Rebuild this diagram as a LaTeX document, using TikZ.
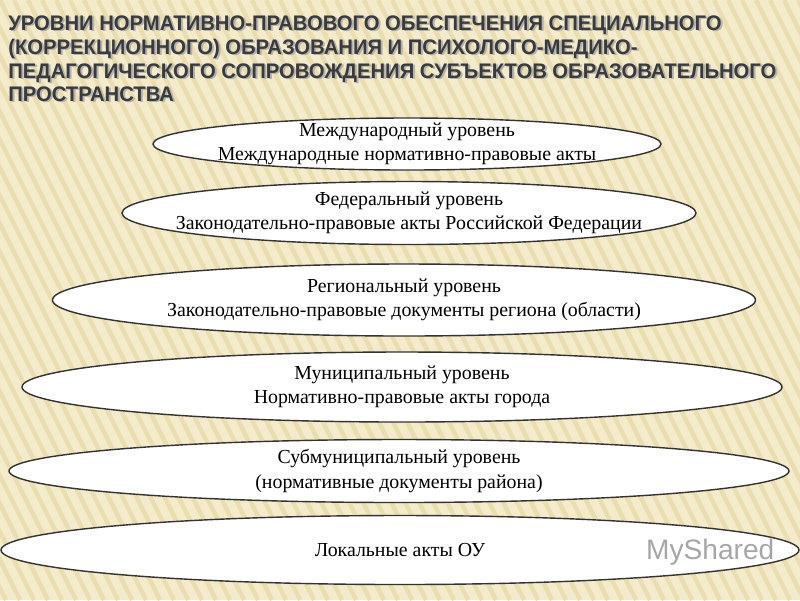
\documentclass[tikz,border=0pt]{standalone}
\usepackage{fontspec}
\setmainfont{Liberation Serif}
\newfontfamily\ttl{Liberation Sans}
\definecolor{bgc}{HTML}{F4EBCB}
\definecolor{stripe}{HTML}{EADDB0}
\definecolor{ttlc}{HTML}{3A3A3A}
\usetikzlibrary{shapes.geometric}
\tikzset{lvl/.style={ellipse,draw=black!80,line width=0.8pt,fill=white,inner sep=0pt},
lvltext/.style={align=center,inner sep=0pt,font=\fontsize{11.3}{14}\selectfont},
ttlline/.style={anchor=base west,inner sep=0pt,text=ttlc,font=\ttl\bfseries\fontsize{12}{14}\selectfont}}
\begin{document}
\begin{tikzpicture}[x=0.02cm,y=-0.02cm]
\useasboundingbox (0,0) rectangle (800,600);
\fill[bgc] (0,0) rectangle (800,600);
\begin{scope}
\clip (0,0) rectangle (800,600);
\foreach \i in {-60,...,80} {\draw[stripe,line width=2.5pt] (\i*14,0) -- (\i*14+300,600);}
\end{scope}
\foreach \t/\yy [count=\k] in {УРОВНИ НОРМАТИВНО-ПРАВОВОГО ОБЕСПЕЧЕНИЯ СПЕЦИАЛЬНОГО/30,(КОРРЕКЦИОННОГО) ОБРАЗОВАНИЯ И ПСИХОЛОГО-МЕДИКО-/54,ПЕДАГОГИЧЕСКОГО СОПРОВОЖДЕНИЯ СУБЪЕКТОВ ОБРАЗОВАТЕЛЬНОГО/78,ПРОСТРАНСТВА/101}{
\node[ttlline,text=black!30] (s\k) at (10,\yy+1.5) {\scalebox{0.96}[1]{\t}};
\node[ttlline] (t\k) at (8,\yy) {\scalebox{0.96}[1]{\t}};}
\foreach \n/\cx/\cy/\w/\h in {1/407/144/508/52,2/409/213/574/63,3/404/300/703/72,4/402/387/760/70,5/399/471/780/63,6/400/550/798/69}
  \node[lvl,minimum width=\w*0.02cm,minimum height=\h*0.02cm] (e\n) at (\cx,\cy) {};
\node[lvltext] (l1) at (e1) {Международный уровень\\Международные нормативно-правовые акты};
\node[lvltext] (l2) at (e2) {Федеральный уровень\\Законодательно-правовые акты Российской Федерации};
\node[lvltext] (l3) at (e3) {Региональный уровень\\Законодательно-правовые документы региона (области)};
\node[lvltext] (l4) at (e4) {Муниципальный уровень\\Нормативно-правовые акты города};
\node[lvltext] (l5) at (e5) {Субмуниципальный уровень\\(нормативные документы района)};
\node[lvltext] (l6) at (e6) {Локальные акты ОУ};
\node[text=black!35,font=\ttl\fontsize{16}{16}\selectfont,anchor=west] (wm) at (640,552) {MyShared};
\end{tikzpicture}
\end{document}
